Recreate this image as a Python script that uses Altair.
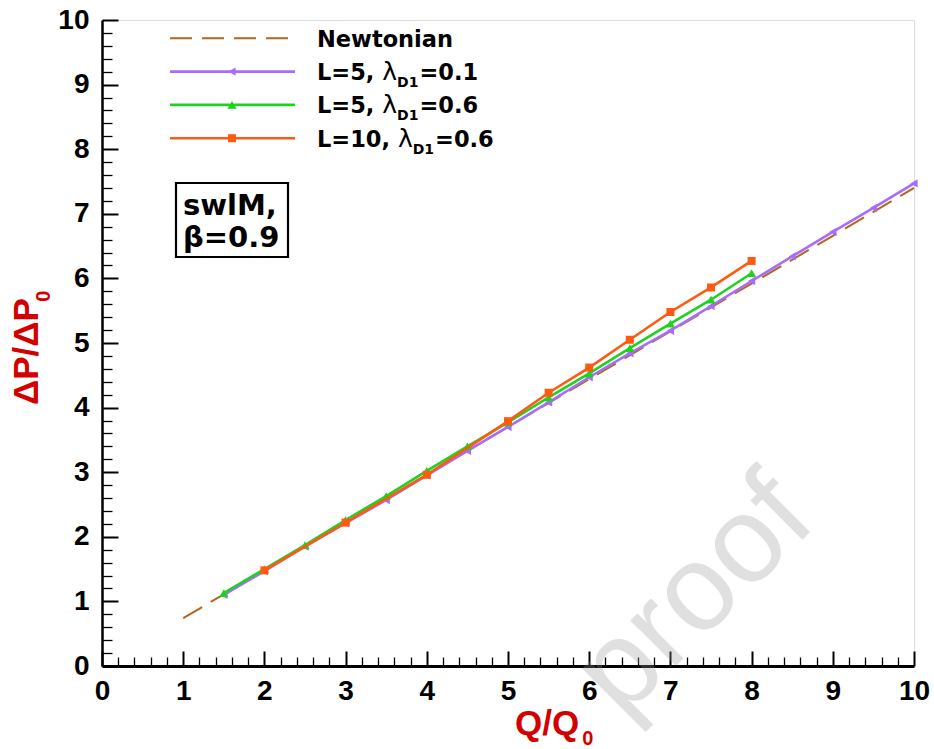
import altair as alt
import pandas as pd

# ---------------- data ----------------
newt_x = [1, 2, 3, 4, 5, 6, 7, 8, 9, 10]
newt_y = [0.74, 1.48, 2.22, 2.96, 3.70, 4.44, 5.18, 5.92, 6.66, 7.40]

l5a_x = [1.5, 2, 2.5, 3, 3.5, 4, 4.5, 5, 5.5, 6, 6.5, 7, 7.5, 8, 8.5, 9, 9.5, 10]
l5a_y = [1.10, 1.47, 1.85, 2.21, 2.57, 2.95, 3.33, 3.70, 4.08, 4.47, 4.84, 5.19,
         5.57, 5.96, 6.34, 6.72, 7.09, 7.47]

l5b_x = [1.5, 2, 2.5, 3, 3.5, 4, 4.5, 5, 5.5, 6, 6.5, 7, 7.5, 8]
l5b_y = [1.13, 1.50, 1.87, 2.26, 2.63, 3.02, 3.40, 3.77, 4.16, 4.53, 4.92, 5.30, 5.67, 6.08]

l10_x = [2, 3, 4, 5, 5.5, 6, 6.5, 7, 7.5, 8]
l10_y = [1.48, 2.22, 2.96, 3.79, 4.23, 4.62, 5.05, 5.48, 5.86, 6.27]

major_ticks = [0, 1, 2, 3, 4, 5, 6, 7, 8, 9, 10]
legend_L = ["L=5, ", "L=5, ", "L=10, "]
legend_lam = ["=0.1", "=0.6", "=0.6"]

# ---------------- styles ----------------
W, H = 812, 646
BROWN = "#B8641E"
PURPLE = "#A86CFA"
GREEN = "#1ED21E"
ORANGE = "#FF5A10"
RED = "#D40000"
TICKFONT = "Liberation Sans"
LEGFONT = "DejaVu Sans"

minor_ticks = [round(i * 0.2, 1) for i in range(51) if i % 5 != 0]

xs = alt.Scale(domain=[0, 10], nice=False, zero=False)
ys = alt.Scale(domain=[0, 10], nice=False, zero=False)

ax_main_x = alt.Axis(orient="bottom", values=major_ticks, ticks=False, tickSize=0,
                     domain=True, domainColor="black", domainWidth=3, grid=False,
                     labelFont=TICKFONT, labelFontSize=28, labelFontWeight="bold",
                     labelColor="black", labelPadding=11, labelFlush=False,
                     labelOverlap=False, title="")
ax_main_y = alt.Axis(orient="left", values=major_ticks, ticks=False, tickSize=0,
                     domain=True, domainColor="black", domainWidth=2.5, grid=False,
                     labelFont=TICKFONT, labelFontSize=28, labelFontWeight="bold",
                     labelColor="black", labelPadding=13, labelOverlap=False, title="")
ax_major_x = alt.Axis(orient="top", offset=-H, values=major_ticks, labels=False,
                      domain=False, grid=False, ticks=True, tickSize=15, tickWidth=2,
                      tickColor="black", title="")
ax_major_y = alt.Axis(orient="right", offset=-W, values=major_ticks, labels=False,
                      domain=False, grid=False, ticks=True, tickSize=16, tickWidth=2,
                      tickColor="black", title="")
ax_minor_x = alt.Axis(orient="top", offset=-H, values=minor_ticks, labels=False,
                      domain=False, grid=False, ticks=True, tickSize=9, tickWidth=1.3,
                      tickColor="black", title="")
ax_minor_y = alt.Axis(orient="right", offset=-W, values=minor_ticks, labels=False,
                      domain=False, grid=False, ticks=True, tickSize=10, tickWidth=1.3,
                      tickColor="black", title="")

newt_df = pd.DataFrame({"x": newt_x, "y": newt_y})
a_df = pd.DataFrame({"x": l5a_x, "y": l5a_y})
b_df = pd.DataFrame({"x": l5b_x, "y": l5b_y})
c_df = pd.DataFrame({"x": l10_x, "y": l10_y})


def txt(text, x, y, size, weight="bold", font=LEGFONT, color="black", angle=0,
        align="left", baseline="alphabetic", opacity=1):
    kw = dict(align=align, baseline=baseline, font=font, fontSize=size,
              fontWeight=weight, color=color, opacity=opacity)
    if angle:
        kw["angle"] = angle
    return alt.Chart(pd.DataFrame({"t": [text]})).mark_text(**kw).encode(
        x=alt.value(x), y=alt.value(y), text="t:N")


layers = []
layers.append(alt.Chart(newt_df).mark_line(color=BROWN, strokeWidth=2, strokeDash=[22, 10]).encode(
    x=alt.X("x:Q", scale=xs, axis=ax_main_x), y=alt.Y("y:Q", scale=ys, axis=ax_main_y)))

series = [(a_df, PURPLE, "triangle-left", 70), (b_df, GREEN, "triangle-up", 80),
          (c_df, ORANGE, "square", 64)]
for i, (df, col, shp, sz) in enumerate(series):
    xa = ax_major_x if i == 0 else None
    ya = ax_major_y if i == 0 else None
    xp = ax_minor_x if i == 0 else None
    yp = ax_minor_y if i == 0 else None
    layers.append(alt.Chart(df).mark_line(color=col, strokeWidth=2.6).encode(
        x=alt.X("x:Q", scale=xs, axis=xa), y=alt.Y("y:Q", scale=ys, axis=ya)))
    layers.append(alt.Chart(df).mark_point(color=col, shape=shp, filled=True, size=sz, opacity=1).encode(
        x=alt.X("x:Q", scale=xs, axis=xp), y=alt.Y("y:Q", scale=ys, axis=yp)))

# ---------------- legend (manual, to get subscripts) ----------------
BOLD_W = {"L": 0.637, "=": 0.838, ",": 0.380, " ": 0.348, ".": 0.380, "D": 0.830}
def bw(s, size):
    return sum(BOLD_W.get(ch, 0.696) for ch in s) * size

LX0, LX1, LMX, TX = 68, 193, 130, 215
rows_y = [18.3, 51.6, 84.9, 118.2]
FS = 22.5
layers.append(alt.Chart(pd.DataFrame({"t": [0]})).mark_rule(color=BROWN, strokeWidth=2, strokeDash=[22, 10]).encode(
    x=alt.value(LX0), x2=alt.value(LX1), y=alt.value(rows_y[0])))
layers.append(txt("Newtonian", TX, rows_y[0] + 8.3, FS))
for i, (col, shp, sz) in enumerate([(PURPLE, "triangle-left", 70), (GREEN, "triangle-up", 80), (ORANGE, "square", 64)]):
    yy = rows_y[i + 1]
    layers.append(alt.Chart(pd.DataFrame({"t": [0]})).mark_rule(color=col, strokeWidth=2.6).encode(
        x=alt.value(LX0), x2=alt.value(LX1), y=alt.value(yy)))
    layers.append(alt.Chart(pd.DataFrame({"t": [0]})).mark_point(color=col, shape=shp, filled=True, size=sz, opacity=1).encode(
        x=alt.value(LMX), y=alt.value(yy)))
    base = yy + 8.3
    x = TX
    layers.append(txt(legend_L[i], x, base, FS))
    x += bw(legend_L[i], FS)
    layers.append(txt("λ", x, base, 25, weight="normal"))
    x += 0.592 * 25
    layers.append(txt("D1", x, base + 7, 14))
    x += bw("D1", 14) + 1
    layers.append(txt(legend_lam[i], x, base, FS))

# ---------------- annotation box ----------------
layers.append(alt.Chart(pd.DataFrame({"t": [0]})).mark_rect(fill="white", stroke="black", strokeWidth=2.2).encode(
    x=alt.value(74), x2=alt.value(186), y=alt.value(163), y2=alt.value(237)))
layers.append(txt("swlM,", 81, 195, 29))
layers.append(txt("β=0.9", 81, 227, 29))

# ---------------- axis titles (manual, with subscripts) ----------------
layers.append(txt("Q/Q", 413, 715, 35, font=TICKFONT, color=RED))
layers.append(txt("0", 413 + 1.834 * 35 + 3, 725, 20, font=TICKFONT, color=RED))
ystart = 385
layers.append(txt("ΔP/ΔP", -64, ystart, 35, font=TICKFONT, color=RED, angle=270))
layers.append(txt("0", -52, ystart - 2.836 * 35 - 4, 20, font=TICKFONT, color=RED, angle=270))

# ---------------- watermark ----------------
layers.append(txt("proof", 520, 700, 122, weight="normal", font=TICKFONT, color="#9a9a9a",
                  angle=315, opacity=0.3))

chart = alt.layer(*layers).resolve_axis(x="independent", y="independent").properties(
    width=W, height=H,
    autosize=alt.AutoSizeParams(type="none"),
    padding={"left": 102, "top": 20, "right": 20, "bottom": 83},
).configure_view(stroke=None).configure(background="white")

chart.save("out.html", embed_options={"renderer": "svg", "actions": False})
